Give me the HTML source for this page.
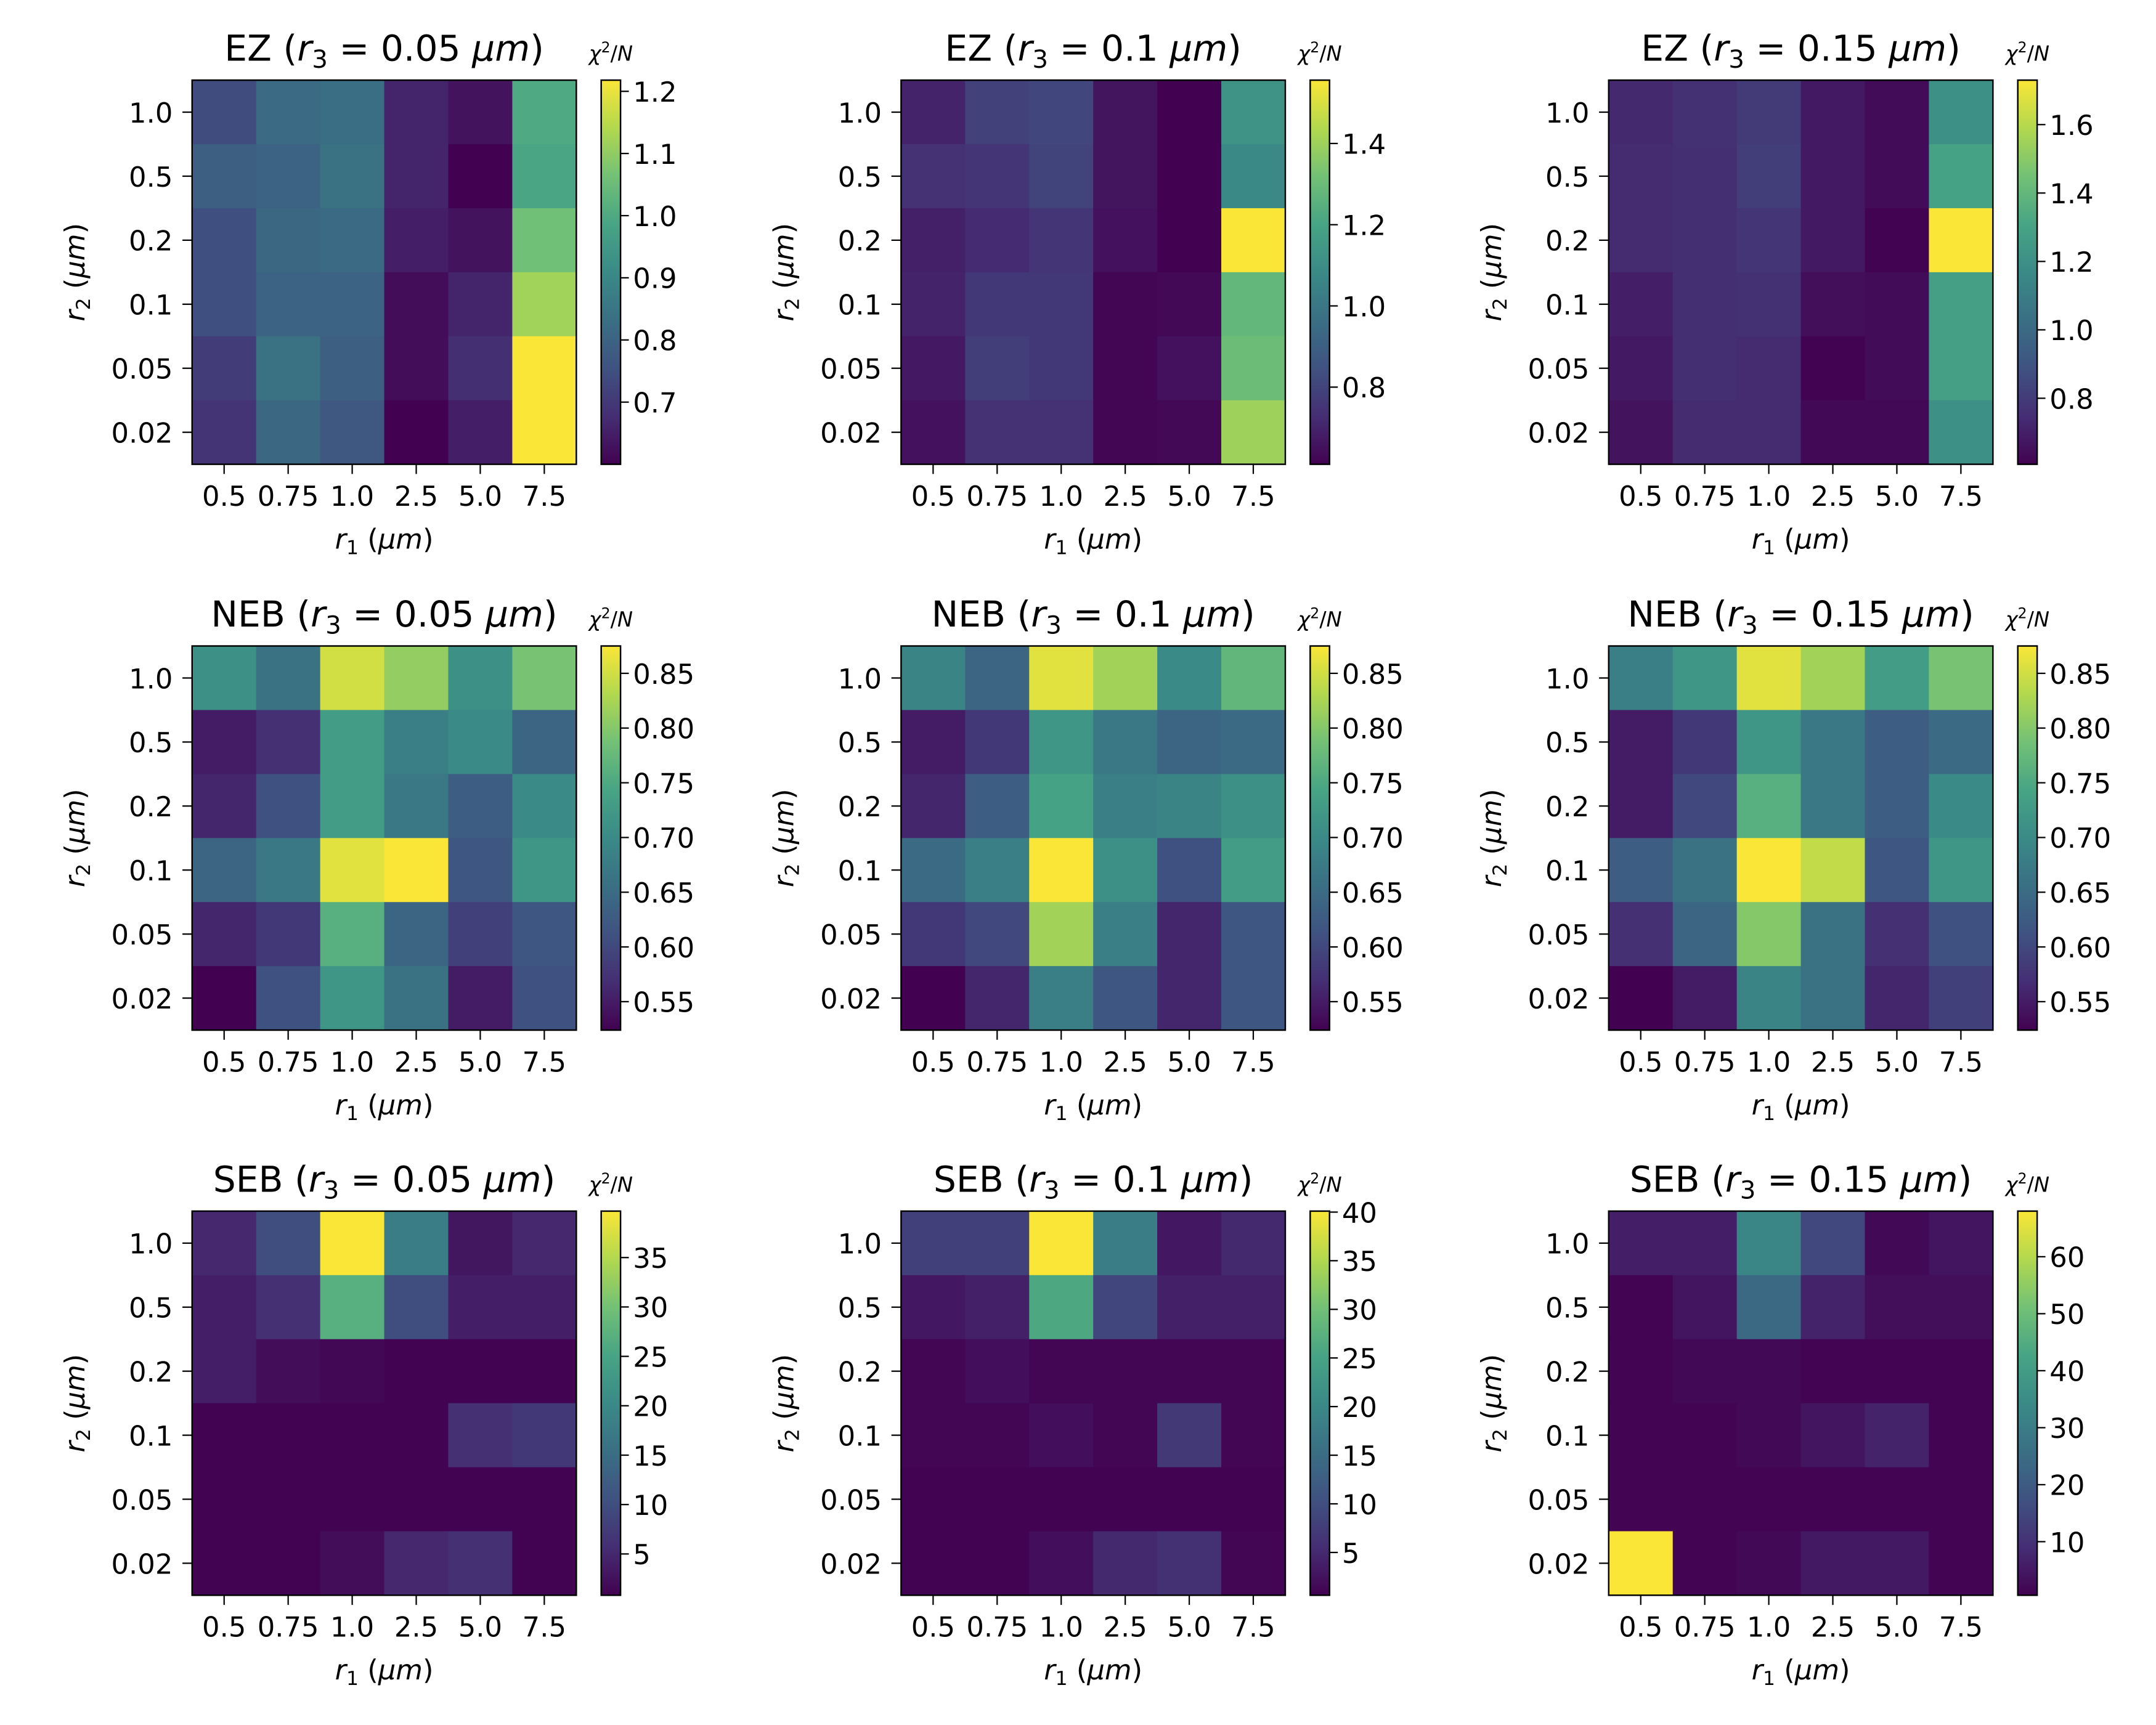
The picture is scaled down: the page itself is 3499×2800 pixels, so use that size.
<!DOCTYPE html>
<html><head><meta charset="utf-8">
<style>
html,body{margin:0;padding:0;background:#fff;}
svg{display:block;}
text{font-family:"DejaVu Sans","Liberation Sans",sans-serif;fill:#000;}
</style></head>
<body>
<svg id="fig" xmlns="http://www.w3.org/2000/svg" width="3499" height="2800" viewBox="0 0 1560 1248.4" preserveAspectRatio="none">
<rect x="0" y="0" width="1560" height="1248.4" fill="#fff"/>
<defs>
<linearGradient id="viridis" x1="0" y1="1" x2="0" y2="0"></linearGradient>
</defs>
</svg>
<script>
const xCats = ["0.5","0.75","1.0","2.5","5.0","7.5"];
const yCats = ["1.0","0.5","0.2","0.1","0.05","0.02"];
const panelRegions = ["EZ","EZ","EZ","NEB","NEB","NEB","SEB","SEB","SEB"];
const panelR3 = ["0.05","0.1","0.15","0.05","0.1","0.15","0.05","0.1","0.15"];
const ez1 = [[0.74,0.82,0.83,0.66,0.63,1.00],[0.79,0.80,0.84,0.66,0.60,0.99],[0.75,0.81,0.82,0.65,0.63,1.06],[0.75,0.80,0.80,0.62,0.66,1.12],[0.71,0.84,0.79,0.62,0.68,1.22],[0.69,0.81,0.77,0.60,0.65,1.22]];
const ez2 = [[0.70,0.79,0.81,0.66,0.61,1.12],[0.74,0.75,0.80,0.66,0.61,1.08],[0.69,0.72,0.75,0.65,0.61,1.556],[0.70,0.76,0.76,0.62,0.63,1.28],[0.67,0.78,0.76,0.62,0.65,1.30],[0.65,0.74,0.74,0.62,0.63,1.40]];
const ez3 = [[0.73,0.76,0.80,0.68,0.64,1.20],[0.74,0.75,0.81,0.68,0.64,1.30],[0.74,0.75,0.78,0.68,0.61,1.73],[0.70,0.75,0.76,0.65,0.64,1.28],[0.68,0.75,0.74,0.61,0.64,1.28],[0.66,0.74,0.74,0.63,0.63,1.20]];
const neb1 = [[0.71,0.66,0.85,0.81,0.71,0.79],[0.55,0.57,0.73,0.68,0.70,0.64],[0.56,0.61,0.73,0.67,0.63,0.70],[0.64,0.67,0.86,0.875,0.62,0.72],[0.56,0.58,0.76,0.64,0.59,0.62],[0.524,0.61,0.72,0.66,0.55,0.61]];
const neb2 = [[0.69,0.64,0.86,0.82,0.70,0.77],[0.55,0.58,0.72,0.67,0.64,0.65],[0.56,0.63,0.74,0.68,0.69,0.71],[0.65,0.68,0.875,0.71,0.61,0.73],[0.58,0.60,0.82,0.68,0.56,0.62],[0.524,0.56,0.68,0.62,0.56,0.62]];
const neb3 = [[0.68,0.72,0.86,0.82,0.73,0.79],[0.55,0.58,0.72,0.67,0.63,0.65],[0.55,0.60,0.76,0.67,0.63,0.70],[0.63,0.66,0.875,0.84,0.62,0.72],[0.57,0.64,0.80,0.66,0.57,0.61],[0.524,0.55,0.69,0.66,0.56,0.59]];
const seb1 = [[5,10,39.7,18,3,5],[4,6,27,10,4,4],[4,2,1.5,1,0.9,0.9],[1,1,1,1,6,7],[0.9,1,1,1,1,1],[0.9,1,2,5,6,1]];
const seb2 = [[8,8,40,18,3,5],[3,4,26,9,4,4],[1,2,1,1,1,1],[1,1,2,1,7,1],[0.7,0.7,0.7,0.7,0.7,0.7],[0.7,0.8,2,5,6,1]];
const seb3 = [[6,6,33,15,2,4],[1,4,24,7,3,3],[1,2,2,1,1,1],[1,1,2,4,7,1],[1,1,1,1,1,1],[68,1,2,5,5,1]];
const vMins = [0.60,0.61,0.607,0.524,0.524,0.524,0.82,0.6,0.6];
const vMaxs = [1.218,1.556,1.73,0.875,0.875,0.875,39.7,40.1,68];
const cbTicks = [
 ["0.7","0.8","0.9","1.0","1.1","1.2"],
 ["0.8","1.0","1.2","1.4"],
 ["0.8","1.0","1.2","1.4","1.6"],
 ["0.55","0.60","0.65","0.70","0.75","0.80","0.85"],
 ["0.55","0.60","0.65","0.70","0.75","0.80","0.85"],
 ["0.55","0.60","0.65","0.70","0.75","0.80","0.85"],
 ["5","10","15","20","25","30","35"],
 ["5","10","15","20","25","30","35","40"],
 ["10","20","30","40","50","60"]
];
const panelData = [ez1,ez2,ez3,neb1,neb2,neb3,seb1,seb2,seb3];

const NS = "http://www.w3.org/2000/svg";
const svg = document.getElementById("fig");
const colLeft = [139,652,1164];
const rowTop = [58,467.5,876.5];
const S = 278;
const rawStops = [[0x44,0x01,0x54],[0x47,0x2d,0x7b],[0x3b,0x52,0x8b],[0x2c,0x72,0x8e],[0x21,0x91,0x8c],[0x28,0xae,0x80],[0x5e,0xc9,0x62],[0xad,0xdc,0x30],[0xfd,0xe7,0x25]];
const DES = [0.05,0.12,0.18,0.25,0.28,0.3,0.27,0.2,0.1];
const stops = rawStops.map((c,i)=>{
  const l = 0.2126*c[0]+0.7152*c[1]+0.0722*c[2];
  return c.map(v=>Math.round(v*(1-DES[i])+l*DES[i]));
});
const grad = svg.querySelector("#viridis");
stops.forEach((c,i)=>{
  const s = document.createElementNS(NS,"stop");
  s.setAttribute("offset", i/8);
  s.setAttribute("stop-color","rgb("+c.join(",")+")");
  grad.appendChild(s);
});
function viridis(t){
  t = Math.max(0,Math.min(1,t));
  const p = t*8, i = Math.min(7,Math.floor(p)), f = p-i;
  const a = stops[i], b = stops[i+1];
  return "rgb("+a.map((v,k)=>Math.round(v+(b[k]-v)*f)).join(",")+")";
}
function el(tag, attrs, parent){
  const e = document.createElementNS(NS, tag);
  for (const k in attrs) e.setAttribute(k, attrs[k]);
  (parent||svg).appendChild(e);
  return e;
}
function span(parent, txt, attrs){
  const t = el("tspan", attrs||{}, parent);
  t.textContent = txt;
  return t;
}
const FS = 20;

for (let p = 0; p < 9; p++) {
  const col = p % 3, row = Math.floor(p / 3);
  const L = colLeft[col], T = rowTop[row];
  const data = panelData[p], vmin = vMins[p], vmax = vMaxs[p];
  const cw = S / xCats.length, ch = S / yCats.length;
  const xScale = i => L + i * cw;
  const yScale = j => T + j * ch;
  const cScale = v => (v - vmin) / (vmax - vmin);
  const g = el("g", {});
  
  

  for (let j = 0; j < yCats.length; j++) for (let i = 0; i < xCats.length; i++) {
    const r = el("rect", {x: xScale(i), y: yScale(j), width: cw + 0.4, height: ch + 0.4, fill: viridis(cScale(data[j][i]))}, g);
    
    
  }
  const fr = el("rect", {x: L, y: T, width: S, height: S, fill: "none", stroke: "#000", "stroke-width": 1.1}, g);
  
  

  for (let i = 0; i < xCats.length; i++) {
    const cx = xScale(i) + cw / 2;
    el("line", {x1: cx, y1: T + S, x2: cx, y2: T + S + 7, stroke: "#000", "stroke-width": 1}, g);
    const tx = el("text", {x: cx, y: T + S + 30, "text-anchor": "middle", "font-size": FS}, g);
    tx.textContent = xCats[i];
    
    
  }
  for (let j = 0; j < yCats.length; j++) {
    const cy = yScale(j) + ch / 2;
    el("line", {x1: L - 7, y1: cy, x2: L, y2: cy, stroke: "#000", "stroke-width": 1}, g);
    const ty = el("text", {x: L - 14, y: cy + 7.5, "text-anchor": "end", "font-size": FS}, g);
    ty.textContent = yCats[j];
    
    
  }
  const xl = el("text", {x: L + S / 2, y: T + S + 61, "text-anchor": "middle", "font-size": FS}, g);
  
  
  span(xl, "r", {"font-style": "italic"}); span(xl, "1", {"font-size": 14, dy: 4}); span(xl, " (", {dy: -4}); span(xl, "μm", {"font-style": "italic"}); span(xl, ")");
  const yx = L - 78, yy = T + S / 2;
  const yl = el("text", {x: yx, y: yy, "text-anchor": "middle", "font-size": FS, transform: "rotate(-90 " + yx + " " + yy + ")"}, g);
  
  
  span(yl, "r", {"font-style": "italic"}); span(yl, "2", {"font-size": 14, dy: 4}); span(yl, " (", {dy: -4}); span(yl, "μm", {"font-style": "italic"}); span(yl, ")");
  const tt = el("text", {x: L + S / 2, y: T - 14, "text-anchor": "middle", "font-size": 26}, g);
  
  
  span(tt, panelRegions[p] + " ("); span(tt, "r", {"font-style": "italic"}); span(tt, "3", {"font-size": 18, dy: 5});
  span(tt, " = " + panelR3[p] + " ", {dy: -5}); span(tt, "μm", {"font-style": "italic"}); span(tt, ")");

  const cbx = L + 296, cbw = 14;
  const cb = el("rect", {x: cbx, y: T, width: cbw, height: S, fill: "url(#viridis)", stroke: "#000", "stroke-width": 1.1}, g);
  
  
  const ticks = cbTicks[p];
  for (let k = 0; k < ticks.length; k++) {
    const v = parseFloat(ticks[k]);
    const ty = T + S - cScale(v) * S;
    el("line", {x1: cbx + cbw, y1: ty, x2: cbx + cbw + 6, y2: ty, stroke: "#000", "stroke-width": 1}, g);
    const lt = el("text", {x: cbx + cbw + 9, y: ty + 7.5, "font-size": FS}, g);
    lt.textContent = ticks[k];
    
    
  }
  const cl = el("text", {x: cbx + cbw / 2, y: T - 14, "text-anchor": "middle", "font-size": 15}, g);
  
  
  span(cl, "χ", {"font-style": "italic"}); span(cl, "2", {"font-size": 10.5, dy: -6}); span(cl, "/", {dy: 6}); span(cl, "N", {"font-style": "italic"});
}
</script>
</body></html>
